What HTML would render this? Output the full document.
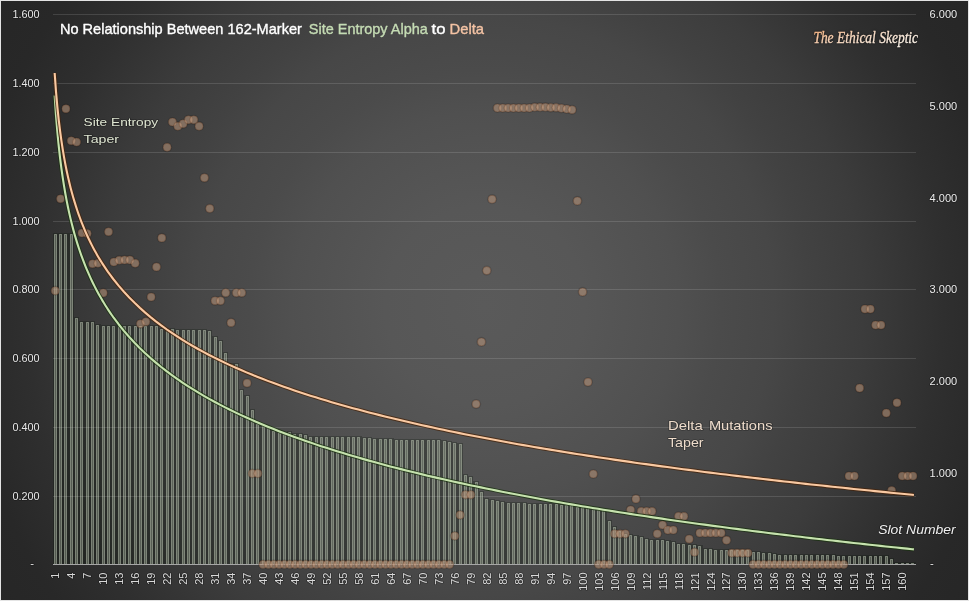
<!DOCTYPE html>
<html><head><meta charset="utf-8"><title>No Relationship Between 162-Marker Site Entropy Alpha to Delta</title>
<style>
html,body{margin:0;padding:0;background:#262626;}
#c{position:relative;width:969px;height:601px;overflow:hidden;box-sizing:border-box;border:1px solid #e4e4e4;background:radial-gradient(circle 580px at 484px 305px, #5a5a5a 0px, #575757 100px, #505050 194px, #4b4b4b 236px, #474747 289px, #424242 324px, #3c3c3c 378px, #2f2f2f 458px, #282828 520px, #262626 580px);}
svg{position:absolute;left:-1px;top:-1px;}
text{font-family:"Liberation Sans",Arial,sans-serif;paint-order:stroke;stroke:rgba(0,0,0,0.28);stroke-width:1.6px;stroke-linejoin:round;}
</style></head><body>
<div id="c">
<svg width="969" height="601" viewBox="0 0 969 601">
<g fill="rgba(8,18,8,0.26)" shape-rendering="crispEdges">
<rect x="53" y="233" width="5" height="331"/>
<rect x="58" y="233" width="5" height="331"/>
<rect x="63" y="233" width="6" height="331"/>
<rect x="69" y="233" width="5" height="331"/>
<rect x="74" y="317" width="5" height="247"/>
<rect x="79" y="321" width="6" height="243"/>
<rect x="85" y="321" width="5" height="243"/>
<rect x="90" y="321" width="5" height="243"/>
<rect x="95" y="324" width="6" height="240"/>
<rect x="101" y="325" width="5" height="239"/>
<rect x="106" y="325" width="5" height="239"/>
<rect x="111" y="325" width="6" height="239"/>
<rect x="117" y="325" width="5" height="239"/>
<rect x="122" y="325" width="5" height="239"/>
<rect x="127" y="325" width="6" height="239"/>
<rect x="133" y="325" width="5" height="239"/>
<rect x="138" y="325" width="5" height="239"/>
<rect x="143" y="325" width="5" height="239"/>
<rect x="148" y="325" width="6" height="239"/>
<rect x="154" y="325" width="5" height="239"/>
<rect x="159" y="328" width="5" height="236"/>
<rect x="164" y="329" width="6" height="235"/>
<rect x="170" y="328" width="5" height="236"/>
<rect x="175" y="329" width="5" height="235"/>
<rect x="180" y="329" width="6" height="235"/>
<rect x="186" y="329" width="5" height="235"/>
<rect x="191" y="329" width="5" height="235"/>
<rect x="196" y="329" width="6" height="235"/>
<rect x="202" y="329" width="5" height="235"/>
<rect x="207" y="330" width="5" height="234"/>
<rect x="212" y="336" width="6" height="228"/>
<rect x="218" y="340" width="5" height="224"/>
<rect x="223" y="352" width="5" height="212"/>
<rect x="228" y="363" width="6" height="201"/>
<rect x="234" y="363" width="5" height="201"/>
<rect x="239" y="389" width="5" height="175"/>
<rect x="244" y="395" width="6" height="169"/>
<rect x="250" y="409" width="5" height="155"/>
<rect x="255" y="423" width="5" height="141"/>
<rect x="260" y="425" width="6" height="139"/>
<rect x="266" y="427" width="5" height="137"/>
<rect x="271" y="430" width="5" height="134"/>
<rect x="276" y="431" width="6" height="133"/>
<rect x="282" y="433" width="5" height="131"/>
<rect x="287" y="431" width="5" height="133"/>
<rect x="292" y="433" width="6" height="131"/>
<rect x="298" y="433" width="5" height="131"/>
<rect x="303" y="434" width="5" height="130"/>
<rect x="308" y="436" width="6" height="128"/>
<rect x="314" y="436" width="5" height="128"/>
<rect x="319" y="436" width="5" height="128"/>
<rect x="324" y="436" width="6" height="128"/>
<rect x="330" y="436" width="5" height="128"/>
<rect x="335" y="436" width="5" height="128"/>
<rect x="340" y="436" width="6" height="128"/>
<rect x="346" y="436" width="5" height="128"/>
<rect x="351" y="436" width="5" height="128"/>
<rect x="356" y="436" width="6" height="128"/>
<rect x="362" y="437" width="5" height="127"/>
<rect x="367" y="437" width="5" height="127"/>
<rect x="372" y="438" width="6" height="126"/>
<rect x="378" y="438" width="5" height="126"/>
<rect x="383" y="438" width="5" height="126"/>
<rect x="388" y="438" width="6" height="126"/>
<rect x="394" y="439" width="5" height="125"/>
<rect x="399" y="439" width="5" height="125"/>
<rect x="404" y="439" width="6" height="125"/>
<rect x="410" y="439" width="5" height="125"/>
<rect x="415" y="439" width="5" height="125"/>
<rect x="420" y="439" width="6" height="125"/>
<rect x="426" y="439" width="5" height="125"/>
<rect x="431" y="439" width="5" height="125"/>
<rect x="436" y="439" width="5" height="125"/>
<rect x="441" y="440" width="6" height="124"/>
<rect x="447" y="441" width="5" height="123"/>
<rect x="452" y="442" width="5" height="122"/>
<rect x="457" y="443" width="6" height="121"/>
<rect x="463" y="474" width="5" height="90"/>
<rect x="468" y="476" width="5" height="88"/>
<rect x="473" y="481" width="6" height="83"/>
<rect x="479" y="491" width="5" height="73"/>
<rect x="484" y="498" width="5" height="66"/>
<rect x="489" y="499" width="6" height="65"/>
<rect x="495" y="500" width="5" height="64"/>
<rect x="500" y="501" width="5" height="63"/>
<rect x="505" y="502" width="6" height="62"/>
<rect x="511" y="502" width="5" height="62"/>
<rect x="516" y="502" width="5" height="62"/>
<rect x="521" y="502" width="6" height="62"/>
<rect x="527" y="503" width="5" height="61"/>
<rect x="532" y="503" width="5" height="61"/>
<rect x="537" y="503" width="6" height="61"/>
<rect x="543" y="503" width="5" height="61"/>
<rect x="548" y="503" width="5" height="61"/>
<rect x="553" y="503" width="6" height="61"/>
<rect x="559" y="504" width="5" height="60"/>
<rect x="564" y="504" width="5" height="60"/>
<rect x="569" y="504" width="6" height="60"/>
<rect x="575" y="506" width="5" height="58"/>
<rect x="580" y="506" width="5" height="58"/>
<rect x="585" y="506" width="6" height="58"/>
<rect x="591" y="508" width="5" height="56"/>
<rect x="596" y="509" width="5" height="55"/>
<rect x="601" y="509" width="6" height="55"/>
<rect x="607" y="520" width="5" height="44"/>
<rect x="612" y="526" width="5" height="38"/>
<rect x="617" y="530" width="6" height="34"/>
<rect x="623" y="533" width="5" height="31"/>
<rect x="628" y="534" width="5" height="30"/>
<rect x="633" y="535" width="6" height="29"/>
<rect x="639" y="536" width="5" height="28"/>
<rect x="644" y="538" width="5" height="26"/>
<rect x="649" y="539" width="6" height="25"/>
<rect x="655" y="539" width="5" height="25"/>
<rect x="660" y="539" width="5" height="25"/>
<rect x="665" y="540" width="6" height="24"/>
<rect x="671" y="541" width="5" height="23"/>
<rect x="676" y="543" width="5" height="21"/>
<rect x="681" y="543" width="6" height="21"/>
<rect x="687" y="544" width="5" height="20"/>
<rect x="692" y="544" width="5" height="20"/>
<rect x="697" y="545" width="6" height="19"/>
<rect x="703" y="548" width="5" height="16"/>
<rect x="708" y="548" width="5" height="16"/>
<rect x="713" y="549" width="5" height="15"/>
<rect x="718" y="549" width="6" height="15"/>
<rect x="724" y="549" width="5" height="15"/>
<rect x="729" y="549" width="5" height="15"/>
<rect x="734" y="549" width="6" height="15"/>
<rect x="740" y="549" width="5" height="15"/>
<rect x="745" y="549" width="5" height="15"/>
<rect x="750" y="551" width="6" height="13"/>
<rect x="756" y="551" width="5" height="13"/>
<rect x="761" y="552" width="5" height="12"/>
<rect x="766" y="552" width="6" height="12"/>
<rect x="772" y="553" width="5" height="11"/>
<rect x="777" y="554" width="5" height="10"/>
<rect x="782" y="554" width="6" height="10"/>
<rect x="788" y="554" width="5" height="10"/>
<rect x="793" y="554" width="5" height="10"/>
<rect x="798" y="554" width="6" height="10"/>
<rect x="804" y="554" width="5" height="10"/>
<rect x="809" y="554" width="5" height="10"/>
<rect x="814" y="554" width="6" height="10"/>
<rect x="820" y="554" width="5" height="10"/>
<rect x="825" y="554" width="5" height="10"/>
<rect x="830" y="554" width="6" height="10"/>
<rect x="836" y="555" width="5" height="9"/>
<rect x="841" y="555" width="5" height="9"/>
<rect x="846" y="555" width="6" height="9"/>
<rect x="852" y="555" width="5" height="9"/>
<rect x="857" y="555" width="5" height="9"/>
<rect x="862" y="555" width="6" height="9"/>
<rect x="868" y="555" width="5" height="9"/>
<rect x="873" y="555" width="5" height="9"/>
<rect x="878" y="555" width="6" height="9"/>
<rect x="884" y="555" width="5" height="9"/>
<rect x="889" y="558" width="5" height="6"/>
<rect x="894" y="562" width="6" height="2"/>
<rect x="900" y="562" width="5" height="2"/>
<rect x="905" y="562" width="5" height="2"/>
<rect x="910" y="562" width="6" height="2"/>
</g>
<g fill="rgba(175,185,165,0.36)" stroke="rgba(182,192,172,0.52)" stroke-width="1">
<rect x="54.5" y="234.5" width="2" height="330"/>
<rect x="59.5" y="234.5" width="2" height="330"/>
<rect x="64.5" y="234.5" width="2" height="330"/>
<rect x="70.5" y="234.5" width="2" height="330"/>
<rect x="75.5" y="318.5" width="2" height="246"/>
<rect x="80.5" y="322.5" width="2" height="242"/>
<rect x="86.5" y="322.5" width="2" height="242"/>
<rect x="91.5" y="322.5" width="2" height="242"/>
<rect x="96.5" y="325.5" width="2" height="239"/>
<rect x="102.5" y="326.5" width="2" height="238"/>
<rect x="107.5" y="326.5" width="2" height="238"/>
<rect x="112.5" y="326.5" width="2" height="238"/>
<rect x="118.5" y="326.5" width="2" height="238"/>
<rect x="123.5" y="326.5" width="2" height="238"/>
<rect x="128.5" y="326.5" width="2" height="238"/>
<rect x="134.5" y="326.5" width="2" height="238"/>
<rect x="139.5" y="326.5" width="2" height="238"/>
<rect x="144.5" y="326.5" width="2" height="238"/>
<rect x="150.5" y="326.5" width="2" height="238"/>
<rect x="155.5" y="326.5" width="2" height="238"/>
<rect x="160.5" y="329.5" width="2" height="235"/>
<rect x="166.5" y="330.5" width="2" height="234"/>
<rect x="171.5" y="329.5" width="2" height="235"/>
<rect x="176.5" y="330.5" width="2" height="234"/>
<rect x="182.5" y="330.5" width="2" height="234"/>
<rect x="187.5" y="330.5" width="2" height="234"/>
<rect x="192.5" y="330.5" width="2" height="234"/>
<rect x="198.5" y="330.5" width="2" height="234"/>
<rect x="203.5" y="330.5" width="2" height="234"/>
<rect x="208.5" y="331.5" width="2" height="233"/>
<rect x="214.5" y="337.5" width="2" height="227"/>
<rect x="219.5" y="341.5" width="2" height="223"/>
<rect x="224.5" y="353.5" width="2" height="211"/>
<rect x="230.5" y="364.5" width="2" height="200"/>
<rect x="235.5" y="364.5" width="2" height="200"/>
<rect x="240.5" y="390.5" width="2" height="174"/>
<rect x="246.5" y="396.5" width="2" height="168"/>
<rect x="251.5" y="410.5" width="2" height="154"/>
<rect x="256.5" y="424.5" width="2" height="140"/>
<rect x="262.5" y="426.5" width="2" height="138"/>
<rect x="267.5" y="428.5" width="2" height="136"/>
<rect x="272.5" y="431.5" width="2" height="133"/>
<rect x="278.5" y="432.5" width="2" height="132"/>
<rect x="283.5" y="434.5" width="2" height="130"/>
<rect x="288.5" y="432.5" width="2" height="132"/>
<rect x="293.5" y="434.5" width="2" height="130"/>
<rect x="299.5" y="434.5" width="2" height="130"/>
<rect x="304.5" y="435.5" width="2" height="129"/>
<rect x="309.5" y="437.5" width="2" height="127"/>
<rect x="315.5" y="437.5" width="2" height="127"/>
<rect x="320.5" y="437.5" width="2" height="127"/>
<rect x="325.5" y="437.5" width="2" height="127"/>
<rect x="331.5" y="437.5" width="2" height="127"/>
<rect x="336.5" y="437.5" width="2" height="127"/>
<rect x="341.5" y="437.5" width="2" height="127"/>
<rect x="347.5" y="437.5" width="2" height="127"/>
<rect x="352.5" y="437.5" width="2" height="127"/>
<rect x="357.5" y="437.5" width="2" height="127"/>
<rect x="363.5" y="438.5" width="2" height="126"/>
<rect x="368.5" y="438.5" width="2" height="126"/>
<rect x="373.5" y="439.5" width="2" height="125"/>
<rect x="379.5" y="439.5" width="2" height="125"/>
<rect x="384.5" y="439.5" width="2" height="125"/>
<rect x="389.5" y="439.5" width="2" height="125"/>
<rect x="395.5" y="440.5" width="2" height="124"/>
<rect x="400.5" y="440.5" width="2" height="124"/>
<rect x="405.5" y="440.5" width="2" height="124"/>
<rect x="411.5" y="440.5" width="2" height="124"/>
<rect x="416.5" y="440.5" width="2" height="124"/>
<rect x="421.5" y="440.5" width="2" height="124"/>
<rect x="427.5" y="440.5" width="2" height="124"/>
<rect x="432.5" y="440.5" width="2" height="124"/>
<rect x="437.5" y="440.5" width="2" height="124"/>
<rect x="443.5" y="441.5" width="2" height="123"/>
<rect x="448.5" y="442.5" width="2" height="122"/>
<rect x="453.5" y="443.5" width="2" height="121"/>
<rect x="459.5" y="444.5" width="2" height="120"/>
<rect x="464.5" y="475.5" width="2" height="89"/>
<rect x="469.5" y="477.5" width="2" height="87"/>
<rect x="475.5" y="482.5" width="2" height="82"/>
<rect x="480.5" y="492.5" width="2" height="72"/>
<rect x="485.5" y="499.5" width="2" height="65"/>
<rect x="491.5" y="500.5" width="2" height="64"/>
<rect x="496.5" y="501.5" width="2" height="63"/>
<rect x="501.5" y="502.5" width="2" height="62"/>
<rect x="507.5" y="503.5" width="2" height="61"/>
<rect x="512.5" y="503.5" width="2" height="61"/>
<rect x="517.5" y="503.5" width="2" height="61"/>
<rect x="523.5" y="503.5" width="2" height="61"/>
<rect x="528.5" y="504.5" width="2" height="60"/>
<rect x="533.5" y="504.5" width="2" height="60"/>
<rect x="539.5" y="504.5" width="2" height="60"/>
<rect x="544.5" y="504.5" width="2" height="60"/>
<rect x="549.5" y="504.5" width="2" height="60"/>
<rect x="555.5" y="504.5" width="2" height="60"/>
<rect x="560.5" y="505.5" width="2" height="59"/>
<rect x="565.5" y="505.5" width="2" height="59"/>
<rect x="570.5" y="505.5" width="2" height="59"/>
<rect x="576.5" y="507.5" width="2" height="57"/>
<rect x="581.5" y="507.5" width="2" height="57"/>
<rect x="586.5" y="507.5" width="2" height="57"/>
<rect x="592.5" y="509.5" width="2" height="55"/>
<rect x="597.5" y="510.5" width="2" height="54"/>
<rect x="602.5" y="510.5" width="2" height="54"/>
<rect x="608.5" y="521.5" width="2" height="43"/>
<rect x="613.5" y="527.5" width="2" height="37"/>
<rect x="618.5" y="531.5" width="2" height="33"/>
<rect x="624.5" y="534.5" width="2" height="30"/>
<rect x="629.5" y="535.5" width="2" height="29"/>
<rect x="634.5" y="536.5" width="2" height="28"/>
<rect x="640.5" y="537.5" width="2" height="27"/>
<rect x="645.5" y="539.5" width="2" height="25"/>
<rect x="650.5" y="540.5" width="2" height="24"/>
<rect x="656.5" y="540.5" width="2" height="24"/>
<rect x="661.5" y="540.5" width="2" height="24"/>
<rect x="666.5" y="541.5" width="2" height="23"/>
<rect x="672.5" y="542.5" width="2" height="22"/>
<rect x="677.5" y="544.5" width="2" height="20"/>
<rect x="682.5" y="544.5" width="2" height="20"/>
<rect x="688.5" y="545.5" width="2" height="19"/>
<rect x="693.5" y="545.5" width="2" height="19"/>
<rect x="698.5" y="546.5" width="2" height="18"/>
<rect x="704.5" y="549.5" width="2" height="15"/>
<rect x="709.5" y="549.5" width="2" height="15"/>
<rect x="714.5" y="550.5" width="2" height="14"/>
<rect x="720.5" y="550.5" width="2" height="14"/>
<rect x="725.5" y="550.5" width="2" height="14"/>
<rect x="730.5" y="550.5" width="2" height="14"/>
<rect x="736.5" y="550.5" width="2" height="14"/>
<rect x="741.5" y="550.5" width="2" height="14"/>
<rect x="746.5" y="550.5" width="2" height="14"/>
<rect x="752.5" y="552.5" width="2" height="12"/>
<rect x="757.5" y="552.5" width="2" height="12"/>
<rect x="762.5" y="553.5" width="2" height="11"/>
<rect x="768.5" y="553.5" width="2" height="11"/>
<rect x="773.5" y="554.5" width="2" height="10"/>
<rect x="778.5" y="555.5" width="2" height="9"/>
<rect x="784.5" y="555.5" width="2" height="9"/>
<rect x="789.5" y="555.5" width="2" height="9"/>
<rect x="794.5" y="555.5" width="2" height="9"/>
<rect x="800.5" y="555.5" width="2" height="9"/>
<rect x="805.5" y="555.5" width="2" height="9"/>
<rect x="810.5" y="555.5" width="2" height="9"/>
<rect x="816.5" y="555.5" width="2" height="9"/>
<rect x="821.5" y="555.5" width="2" height="9"/>
<rect x="826.5" y="555.5" width="2" height="9"/>
<rect x="832.5" y="555.5" width="2" height="9"/>
<rect x="837.5" y="556.5" width="2" height="8"/>
<rect x="842.5" y="556.5" width="2" height="8"/>
<rect x="848.5" y="556.5" width="2" height="8"/>
<rect x="853.5" y="556.5" width="2" height="8"/>
<rect x="858.5" y="556.5" width="2" height="8"/>
<rect x="863.5" y="556.5" width="2" height="8"/>
<rect x="869.5" y="556.5" width="2" height="8"/>
<rect x="874.5" y="556.5" width="2" height="8"/>
<rect x="879.5" y="556.5" width="2" height="8"/>
<rect x="885.5" y="556.5" width="2" height="8"/>
<rect x="890.5" y="559.5" width="2" height="5"/>
<rect x="895.5" y="563.5" width="2" height="1"/>
<rect x="901.5" y="563.5" width="2" height="1"/>
<rect x="906.5" y="563.5" width="2" height="1"/>
<rect x="911.5" y="563.5" width="2" height="1"/>
</g>
<g stroke="rgba(255,255,255,0.13)" stroke-width="1" shape-rendering="crispEdges">
<line x1="52.6" y1="496.5" x2="915.6" y2="496.5"/>
<line x1="52.6" y1="427.5" x2="915.6" y2="427.5"/>
<line x1="52.6" y1="358.5" x2="915.6" y2="358.5"/>
<line x1="52.6" y1="289.5" x2="915.6" y2="289.5"/>
<line x1="52.6" y1="221.5" x2="915.6" y2="221.5"/>
<line x1="52.6" y1="152.5" x2="915.6" y2="152.5"/>
<line x1="52.6" y1="83.5" x2="915.6" y2="83.5"/>
<line x1="52.6" y1="14.5" x2="915.6" y2="14.5"/>
</g>
<line x1="52.6" y1="564.5" x2="915.6" y2="564.5" stroke="#a6a6a6" stroke-width="1" shape-rendering="crispEdges"/>
<g fill="rgba(0,0,0,0.12)">
<circle cx="55.26" cy="290.70" r="5.1"/>
<circle cx="60.59" cy="198.80" r="5.1"/>
<circle cx="65.92" cy="108.80" r="5.1"/>
<circle cx="71.25" cy="140.80" r="5.1"/>
<circle cx="76.57" cy="142.10" r="5.1"/>
<circle cx="81.90" cy="233.00" r="5.1"/>
<circle cx="87.23" cy="233.60" r="5.1"/>
<circle cx="92.55" cy="263.80" r="5.1"/>
<circle cx="97.88" cy="263.30" r="5.1"/>
<circle cx="103.21" cy="292.90" r="5.1"/>
<circle cx="108.54" cy="231.80" r="5.1"/>
<circle cx="113.86" cy="262.00" r="5.1"/>
<circle cx="119.19" cy="260.20" r="5.1"/>
<circle cx="124.52" cy="259.90" r="5.1"/>
<circle cx="129.84" cy="259.90" r="5.1"/>
<circle cx="135.17" cy="263.30" r="5.1"/>
<circle cx="140.50" cy="323.80" r="5.1"/>
<circle cx="145.83" cy="321.70" r="5.1"/>
<circle cx="151.15" cy="297.00" r="5.1"/>
<circle cx="156.48" cy="266.90" r="5.1"/>
<circle cx="161.81" cy="237.90" r="5.1"/>
<circle cx="167.13" cy="147.30" r="5.1"/>
<circle cx="172.46" cy="122.00" r="5.1"/>
<circle cx="177.79" cy="126.20" r="5.1"/>
<circle cx="183.12" cy="123.80" r="5.1"/>
<circle cx="188.44" cy="119.80" r="5.1"/>
<circle cx="193.77" cy="119.80" r="5.1"/>
<circle cx="199.10" cy="126.20" r="5.1"/>
<circle cx="204.42" cy="177.80" r="5.1"/>
<circle cx="209.75" cy="208.50" r="5.1"/>
<circle cx="215.08" cy="300.80" r="5.1"/>
<circle cx="220.41" cy="300.80" r="5.1"/>
<circle cx="225.73" cy="292.80" r="5.1"/>
<circle cx="231.06" cy="322.70" r="5.1"/>
<circle cx="236.39" cy="292.80" r="5.1"/>
<circle cx="241.71" cy="292.80" r="5.1"/>
<circle cx="247.04" cy="383.10" r="5.1"/>
<circle cx="252.37" cy="473.50" r="5.1"/>
<circle cx="257.70" cy="473.50" r="5.1"/>
<circle cx="263.02" cy="564.40" r="5.1"/>
<circle cx="268.35" cy="564.40" r="5.1"/>
<circle cx="273.68" cy="564.40" r="5.1"/>
<circle cx="279.00" cy="564.40" r="5.1"/>
<circle cx="284.33" cy="564.40" r="5.1"/>
<circle cx="289.66" cy="564.40" r="5.1"/>
<circle cx="294.99" cy="564.40" r="5.1"/>
<circle cx="300.31" cy="564.40" r="5.1"/>
<circle cx="305.64" cy="564.40" r="5.1"/>
<circle cx="310.97" cy="564.40" r="5.1"/>
<circle cx="316.29" cy="564.40" r="5.1"/>
<circle cx="321.62" cy="564.40" r="5.1"/>
<circle cx="326.95" cy="564.40" r="5.1"/>
<circle cx="332.28" cy="564.40" r="5.1"/>
<circle cx="337.60" cy="564.40" r="5.1"/>
<circle cx="342.93" cy="564.40" r="5.1"/>
<circle cx="348.26" cy="564.40" r="5.1"/>
<circle cx="353.58" cy="564.40" r="5.1"/>
<circle cx="358.91" cy="564.40" r="5.1"/>
<circle cx="364.24" cy="564.40" r="5.1"/>
<circle cx="369.57" cy="564.40" r="5.1"/>
<circle cx="374.89" cy="564.40" r="5.1"/>
<circle cx="380.22" cy="564.40" r="5.1"/>
<circle cx="385.55" cy="564.40" r="5.1"/>
<circle cx="390.87" cy="564.40" r="5.1"/>
<circle cx="396.20" cy="564.40" r="5.1"/>
<circle cx="401.53" cy="564.40" r="5.1"/>
<circle cx="406.86" cy="564.40" r="5.1"/>
<circle cx="412.18" cy="564.40" r="5.1"/>
<circle cx="417.51" cy="564.40" r="5.1"/>
<circle cx="422.84" cy="564.40" r="5.1"/>
<circle cx="428.16" cy="564.40" r="5.1"/>
<circle cx="433.49" cy="564.40" r="5.1"/>
<circle cx="438.82" cy="564.40" r="5.1"/>
<circle cx="444.15" cy="564.40" r="5.1"/>
<circle cx="449.47" cy="564.40" r="5.1"/>
<circle cx="454.80" cy="535.90" r="5.1"/>
<circle cx="460.13" cy="514.90" r="5.1"/>
<circle cx="465.45" cy="494.70" r="5.1"/>
<circle cx="470.78" cy="494.70" r="5.1"/>
<circle cx="476.11" cy="404.10" r="5.1"/>
<circle cx="481.44" cy="341.90" r="5.1"/>
<circle cx="486.76" cy="270.60" r="5.1"/>
<circle cx="492.09" cy="199.20" r="5.1"/>
<circle cx="497.42" cy="108.00" r="5.1"/>
<circle cx="502.75" cy="108.00" r="5.1"/>
<circle cx="508.07" cy="108.00" r="5.1"/>
<circle cx="513.40" cy="108.00" r="5.1"/>
<circle cx="518.73" cy="108.00" r="5.1"/>
<circle cx="524.05" cy="108.00" r="5.1"/>
<circle cx="529.38" cy="108.00" r="5.1"/>
<circle cx="534.71" cy="107.20" r="5.1"/>
<circle cx="540.04" cy="107.20" r="5.1"/>
<circle cx="545.36" cy="107.20" r="5.1"/>
<circle cx="550.69" cy="107.60" r="5.1"/>
<circle cx="556.02" cy="107.60" r="5.1"/>
<circle cx="561.34" cy="108.30" r="5.1"/>
<circle cx="566.67" cy="109.00" r="5.1"/>
<circle cx="572.00" cy="109.80" r="5.1"/>
<circle cx="577.33" cy="200.90" r="5.1"/>
<circle cx="582.65" cy="291.90" r="5.1"/>
<circle cx="587.98" cy="382.10" r="5.1"/>
<circle cx="593.31" cy="474.00" r="5.1"/>
<circle cx="598.63" cy="564.40" r="5.1"/>
<circle cx="603.96" cy="564.40" r="5.1"/>
<circle cx="609.29" cy="564.40" r="5.1"/>
<circle cx="614.62" cy="533.80" r="5.1"/>
<circle cx="619.94" cy="533.80" r="5.1"/>
<circle cx="625.27" cy="533.80" r="5.1"/>
<circle cx="630.60" cy="509.90" r="5.1"/>
<circle cx="635.92" cy="498.90" r="5.1"/>
<circle cx="641.25" cy="511.30" r="5.1"/>
<circle cx="646.58" cy="511.30" r="5.1"/>
<circle cx="651.91" cy="511.30" r="5.1"/>
<circle cx="657.23" cy="533.80" r="5.1"/>
<circle cx="662.56" cy="524.90" r="5.1"/>
<circle cx="667.89" cy="530.00" r="5.1"/>
<circle cx="673.21" cy="530.00" r="5.1"/>
<circle cx="678.54" cy="516.30" r="5.1"/>
<circle cx="683.87" cy="516.30" r="5.1"/>
<circle cx="689.20" cy="539.00" r="5.1"/>
<circle cx="694.52" cy="552.20" r="5.1"/>
<circle cx="699.85" cy="532.90" r="5.1"/>
<circle cx="705.18" cy="532.90" r="5.1"/>
<circle cx="710.50" cy="532.90" r="5.1"/>
<circle cx="715.83" cy="532.90" r="5.1"/>
<circle cx="721.16" cy="532.90" r="5.1"/>
<circle cx="726.49" cy="540.20" r="5.1"/>
<circle cx="731.81" cy="553.00" r="5.1"/>
<circle cx="737.14" cy="553.00" r="5.1"/>
<circle cx="742.47" cy="553.00" r="5.1"/>
<circle cx="747.79" cy="553.00" r="5.1"/>
<circle cx="753.12" cy="564.40" r="5.1"/>
<circle cx="758.45" cy="564.40" r="5.1"/>
<circle cx="763.78" cy="564.40" r="5.1"/>
<circle cx="769.10" cy="564.40" r="5.1"/>
<circle cx="774.43" cy="564.40" r="5.1"/>
<circle cx="779.76" cy="564.40" r="5.1"/>
<circle cx="785.08" cy="564.40" r="5.1"/>
<circle cx="790.41" cy="564.40" r="5.1"/>
<circle cx="795.74" cy="564.40" r="5.1"/>
<circle cx="801.07" cy="564.40" r="5.1"/>
<circle cx="806.39" cy="564.40" r="5.1"/>
<circle cx="811.72" cy="564.40" r="5.1"/>
<circle cx="817.05" cy="564.40" r="5.1"/>
<circle cx="822.37" cy="564.40" r="5.1"/>
<circle cx="827.70" cy="564.40" r="5.1"/>
<circle cx="833.03" cy="564.40" r="5.1"/>
<circle cx="838.36" cy="564.40" r="5.1"/>
<circle cx="843.68" cy="564.40" r="5.1"/>
<circle cx="849.01" cy="476.00" r="5.1"/>
<circle cx="854.34" cy="476.00" r="5.1"/>
<circle cx="859.66" cy="388.10" r="5.1"/>
<circle cx="864.99" cy="309.10" r="5.1"/>
<circle cx="870.32" cy="309.10" r="5.1"/>
<circle cx="875.65" cy="325.10" r="5.1"/>
<circle cx="880.97" cy="325.10" r="5.1"/>
<circle cx="886.30" cy="413.10" r="5.1"/>
<circle cx="891.63" cy="490.50" r="5.1"/>
<circle cx="896.95" cy="402.70" r="5.1"/>
<circle cx="902.28" cy="476.00" r="5.1"/>
<circle cx="907.61" cy="476.00" r="5.1"/>
<circle cx="912.94" cy="476.00" r="5.1"/>
</g>
<g fill="rgba(208,168,138,0.5)" stroke="rgba(100,60,38,0.42)" stroke-width="0.9">
<circle cx="55.26" cy="290.70" r="4.0"/>
<circle cx="60.59" cy="198.80" r="4.0"/>
<circle cx="65.92" cy="108.80" r="4.0"/>
<circle cx="71.25" cy="140.80" r="4.0"/>
<circle cx="76.57" cy="142.10" r="4.0"/>
<circle cx="81.90" cy="233.00" r="4.0"/>
<circle cx="87.23" cy="233.60" r="4.0"/>
<circle cx="92.55" cy="263.80" r="4.0"/>
<circle cx="97.88" cy="263.30" r="4.0"/>
<circle cx="103.21" cy="292.90" r="4.0"/>
<circle cx="108.54" cy="231.80" r="4.0"/>
<circle cx="113.86" cy="262.00" r="4.0"/>
<circle cx="119.19" cy="260.20" r="4.0"/>
<circle cx="124.52" cy="259.90" r="4.0"/>
<circle cx="129.84" cy="259.90" r="4.0"/>
<circle cx="135.17" cy="263.30" r="4.0"/>
<circle cx="140.50" cy="323.80" r="4.0"/>
<circle cx="145.83" cy="321.70" r="4.0"/>
<circle cx="151.15" cy="297.00" r="4.0"/>
<circle cx="156.48" cy="266.90" r="4.0"/>
<circle cx="161.81" cy="237.90" r="4.0"/>
<circle cx="167.13" cy="147.30" r="4.0"/>
<circle cx="172.46" cy="122.00" r="4.0"/>
<circle cx="177.79" cy="126.20" r="4.0"/>
<circle cx="183.12" cy="123.80" r="4.0"/>
<circle cx="188.44" cy="119.80" r="4.0"/>
<circle cx="193.77" cy="119.80" r="4.0"/>
<circle cx="199.10" cy="126.20" r="4.0"/>
<circle cx="204.42" cy="177.80" r="4.0"/>
<circle cx="209.75" cy="208.50" r="4.0"/>
<circle cx="215.08" cy="300.80" r="4.0"/>
<circle cx="220.41" cy="300.80" r="4.0"/>
<circle cx="225.73" cy="292.80" r="4.0"/>
<circle cx="231.06" cy="322.70" r="4.0"/>
<circle cx="236.39" cy="292.80" r="4.0"/>
<circle cx="241.71" cy="292.80" r="4.0"/>
<circle cx="247.04" cy="383.10" r="4.0"/>
<circle cx="252.37" cy="473.50" r="4.0"/>
<circle cx="257.70" cy="473.50" r="4.0"/>
<circle cx="263.02" cy="564.40" r="4.0"/>
<circle cx="268.35" cy="564.40" r="4.0"/>
<circle cx="273.68" cy="564.40" r="4.0"/>
<circle cx="279.00" cy="564.40" r="4.0"/>
<circle cx="284.33" cy="564.40" r="4.0"/>
<circle cx="289.66" cy="564.40" r="4.0"/>
<circle cx="294.99" cy="564.40" r="4.0"/>
<circle cx="300.31" cy="564.40" r="4.0"/>
<circle cx="305.64" cy="564.40" r="4.0"/>
<circle cx="310.97" cy="564.40" r="4.0"/>
<circle cx="316.29" cy="564.40" r="4.0"/>
<circle cx="321.62" cy="564.40" r="4.0"/>
<circle cx="326.95" cy="564.40" r="4.0"/>
<circle cx="332.28" cy="564.40" r="4.0"/>
<circle cx="337.60" cy="564.40" r="4.0"/>
<circle cx="342.93" cy="564.40" r="4.0"/>
<circle cx="348.26" cy="564.40" r="4.0"/>
<circle cx="353.58" cy="564.40" r="4.0"/>
<circle cx="358.91" cy="564.40" r="4.0"/>
<circle cx="364.24" cy="564.40" r="4.0"/>
<circle cx="369.57" cy="564.40" r="4.0"/>
<circle cx="374.89" cy="564.40" r="4.0"/>
<circle cx="380.22" cy="564.40" r="4.0"/>
<circle cx="385.55" cy="564.40" r="4.0"/>
<circle cx="390.87" cy="564.40" r="4.0"/>
<circle cx="396.20" cy="564.40" r="4.0"/>
<circle cx="401.53" cy="564.40" r="4.0"/>
<circle cx="406.86" cy="564.40" r="4.0"/>
<circle cx="412.18" cy="564.40" r="4.0"/>
<circle cx="417.51" cy="564.40" r="4.0"/>
<circle cx="422.84" cy="564.40" r="4.0"/>
<circle cx="428.16" cy="564.40" r="4.0"/>
<circle cx="433.49" cy="564.40" r="4.0"/>
<circle cx="438.82" cy="564.40" r="4.0"/>
<circle cx="444.15" cy="564.40" r="4.0"/>
<circle cx="449.47" cy="564.40" r="4.0"/>
<circle cx="454.80" cy="535.90" r="4.0"/>
<circle cx="460.13" cy="514.90" r="4.0"/>
<circle cx="465.45" cy="494.70" r="4.0"/>
<circle cx="470.78" cy="494.70" r="4.0"/>
<circle cx="476.11" cy="404.10" r="4.0"/>
<circle cx="481.44" cy="341.90" r="4.0"/>
<circle cx="486.76" cy="270.60" r="4.0"/>
<circle cx="492.09" cy="199.20" r="4.0"/>
<circle cx="497.42" cy="108.00" r="4.0"/>
<circle cx="502.75" cy="108.00" r="4.0"/>
<circle cx="508.07" cy="108.00" r="4.0"/>
<circle cx="513.40" cy="108.00" r="4.0"/>
<circle cx="518.73" cy="108.00" r="4.0"/>
<circle cx="524.05" cy="108.00" r="4.0"/>
<circle cx="529.38" cy="108.00" r="4.0"/>
<circle cx="534.71" cy="107.20" r="4.0"/>
<circle cx="540.04" cy="107.20" r="4.0"/>
<circle cx="545.36" cy="107.20" r="4.0"/>
<circle cx="550.69" cy="107.60" r="4.0"/>
<circle cx="556.02" cy="107.60" r="4.0"/>
<circle cx="561.34" cy="108.30" r="4.0"/>
<circle cx="566.67" cy="109.00" r="4.0"/>
<circle cx="572.00" cy="109.80" r="4.0"/>
<circle cx="577.33" cy="200.90" r="4.0"/>
<circle cx="582.65" cy="291.90" r="4.0"/>
<circle cx="587.98" cy="382.10" r="4.0"/>
<circle cx="593.31" cy="474.00" r="4.0"/>
<circle cx="598.63" cy="564.40" r="4.0"/>
<circle cx="603.96" cy="564.40" r="4.0"/>
<circle cx="609.29" cy="564.40" r="4.0"/>
<circle cx="614.62" cy="533.80" r="4.0"/>
<circle cx="619.94" cy="533.80" r="4.0"/>
<circle cx="625.27" cy="533.80" r="4.0"/>
<circle cx="630.60" cy="509.90" r="4.0"/>
<circle cx="635.92" cy="498.90" r="4.0"/>
<circle cx="641.25" cy="511.30" r="4.0"/>
<circle cx="646.58" cy="511.30" r="4.0"/>
<circle cx="651.91" cy="511.30" r="4.0"/>
<circle cx="657.23" cy="533.80" r="4.0"/>
<circle cx="662.56" cy="524.90" r="4.0"/>
<circle cx="667.89" cy="530.00" r="4.0"/>
<circle cx="673.21" cy="530.00" r="4.0"/>
<circle cx="678.54" cy="516.30" r="4.0"/>
<circle cx="683.87" cy="516.30" r="4.0"/>
<circle cx="689.20" cy="539.00" r="4.0"/>
<circle cx="694.52" cy="552.20" r="4.0"/>
<circle cx="699.85" cy="532.90" r="4.0"/>
<circle cx="705.18" cy="532.90" r="4.0"/>
<circle cx="710.50" cy="532.90" r="4.0"/>
<circle cx="715.83" cy="532.90" r="4.0"/>
<circle cx="721.16" cy="532.90" r="4.0"/>
<circle cx="726.49" cy="540.20" r="4.0"/>
<circle cx="731.81" cy="553.00" r="4.0"/>
<circle cx="737.14" cy="553.00" r="4.0"/>
<circle cx="742.47" cy="553.00" r="4.0"/>
<circle cx="747.79" cy="553.00" r="4.0"/>
<circle cx="753.12" cy="564.40" r="4.0"/>
<circle cx="758.45" cy="564.40" r="4.0"/>
<circle cx="763.78" cy="564.40" r="4.0"/>
<circle cx="769.10" cy="564.40" r="4.0"/>
<circle cx="774.43" cy="564.40" r="4.0"/>
<circle cx="779.76" cy="564.40" r="4.0"/>
<circle cx="785.08" cy="564.40" r="4.0"/>
<circle cx="790.41" cy="564.40" r="4.0"/>
<circle cx="795.74" cy="564.40" r="4.0"/>
<circle cx="801.07" cy="564.40" r="4.0"/>
<circle cx="806.39" cy="564.40" r="4.0"/>
<circle cx="811.72" cy="564.40" r="4.0"/>
<circle cx="817.05" cy="564.40" r="4.0"/>
<circle cx="822.37" cy="564.40" r="4.0"/>
<circle cx="827.70" cy="564.40" r="4.0"/>
<circle cx="833.03" cy="564.40" r="4.0"/>
<circle cx="838.36" cy="564.40" r="4.0"/>
<circle cx="843.68" cy="564.40" r="4.0"/>
<circle cx="849.01" cy="476.00" r="4.0"/>
<circle cx="854.34" cy="476.00" r="4.0"/>
<circle cx="859.66" cy="388.10" r="4.0"/>
<circle cx="864.99" cy="309.10" r="4.0"/>
<circle cx="870.32" cy="309.10" r="4.0"/>
<circle cx="875.65" cy="325.10" r="4.0"/>
<circle cx="880.97" cy="325.10" r="4.0"/>
<circle cx="886.30" cy="413.10" r="4.0"/>
<circle cx="891.63" cy="490.50" r="4.0"/>
<circle cx="896.95" cy="402.70" r="4.0"/>
<circle cx="902.28" cy="476.00" r="4.0"/>
<circle cx="907.61" cy="476.00" r="4.0"/>
<circle cx="912.94" cy="476.00" r="4.0"/>
</g>
<polyline fill="none" stroke="rgba(25,50,15,0.75)" stroke-width="4" stroke-linejoin="round" points="54.66,95.50 56.00,115.40 57.33,131.66 58.66,145.41 59.99,157.31 61.32,167.82 62.65,177.21 63.99,185.71 65.32,193.47 66.65,200.61 67.98,207.22 69.31,213.37 70.64,219.13 71.98,224.54 73.31,229.63 74.64,234.46 75.97,239.03 77.30,243.38 78.63,247.53 79.97,251.49 81.30,255.29 82.63,258.93 83.96,262.43 85.29,265.79 86.63,269.04 87.96,272.17 89.29,275.19 90.62,278.11 91.95,280.94 93.28,283.69 94.62,286.35 95.95,288.94 97.28,291.45 98.61,293.89 99.94,296.27 101.27,298.59 102.61,300.84 103.94,303.05 105.27,305.20 106.60,307.29 107.93,309.34 109.27,311.35 110.60,313.31 111.93,315.23 113.26,317.10 118.59,324.24 123.91,330.85 129.24,337.00 134.57,342.76 139.90,348.17 145.22,353.26 150.55,358.09 155.88,362.66 161.20,367.01 166.53,371.16 171.86,375.12 177.18,378.92 182.51,382.56 187.84,386.06 193.17,389.42 198.49,392.67 203.82,395.80 209.15,398.82 214.47,401.74 219.80,404.57 225.13,407.32 230.45,409.98 235.78,412.57 241.11,415.08 246.44,417.52 251.76,419.90 257.09,422.22 262.42,424.47 267.74,426.68 273.07,428.83 278.40,430.92 283.72,432.97 289.05,434.98 294.38,436.94 299.71,438.86 305.03,440.73 310.36,442.57 315.69,444.37 321.01,446.14 326.34,447.87 331.67,449.57 336.99,451.24 342.32,452.87 347.65,454.48 352.98,456.06 358.30,457.61 363.63,459.13 368.96,460.63 374.28,462.11 379.61,463.56 384.94,464.98 390.26,466.39 395.59,467.77 400.92,469.13 406.25,470.47 411.57,471.80 416.90,473.10 422.23,474.38 427.55,475.65 432.88,476.89 438.21,478.12 443.53,479.34 448.86,480.53 454.19,481.71 459.52,482.88 464.84,484.03 470.17,485.17 475.50,486.29 480.82,487.40 486.15,488.49 491.48,489.57 496.80,490.64 502.13,491.70 507.46,492.74 512.79,493.77 518.11,494.79 523.44,495.80 528.77,496.79 534.09,497.78 539.42,498.75 544.75,499.72 550.07,500.67 555.40,501.61 560.73,502.55 566.06,503.47 571.38,504.39 576.71,505.29 582.04,506.19 587.36,507.08 592.69,507.96 598.02,508.83 603.34,509.69 608.67,510.54 614.00,511.39 619.33,512.22 624.65,513.05 629.98,513.87 635.31,514.69 640.63,515.50 645.96,516.30 651.29,517.09 656.61,517.87 661.94,518.65 667.27,519.43 672.60,520.19 677.92,520.95 683.25,521.70 688.58,522.45 693.90,523.19 699.23,523.92 704.56,524.65 709.88,525.37 715.21,526.09 720.54,526.80 725.87,527.50 731.19,528.20 736.52,528.90 741.85,529.59 747.17,530.27 752.50,530.95 757.83,531.62 763.15,532.29 768.48,532.95 773.81,533.61 779.14,534.26 784.46,534.91 789.79,535.56 795.12,536.20 800.44,536.83 805.77,537.46 811.10,538.09 816.42,538.71 821.75,539.33 827.08,539.94 832.41,540.55 837.73,541.15 843.06,541.75 848.39,542.35 853.71,542.94 859.04,543.53 864.37,544.11 869.69,544.70 875.02,545.27 880.35,545.85 885.68,546.42 891.00,546.98 896.33,547.54 901.66,548.10 906.98,548.66 912.31,549.21 913.91,549.38"/>
<polyline fill="none" stroke="#c6e2ae" stroke-width="2.1" stroke-linejoin="round" points="54.66,95.50 56.00,115.40 57.33,131.66 58.66,145.41 59.99,157.31 61.32,167.82 62.65,177.21 63.99,185.71 65.32,193.47 66.65,200.61 67.98,207.22 69.31,213.37 70.64,219.13 71.98,224.54 73.31,229.63 74.64,234.46 75.97,239.03 77.30,243.38 78.63,247.53 79.97,251.49 81.30,255.29 82.63,258.93 83.96,262.43 85.29,265.79 86.63,269.04 87.96,272.17 89.29,275.19 90.62,278.11 91.95,280.94 93.28,283.69 94.62,286.35 95.95,288.94 97.28,291.45 98.61,293.89 99.94,296.27 101.27,298.59 102.61,300.84 103.94,303.05 105.27,305.20 106.60,307.29 107.93,309.34 109.27,311.35 110.60,313.31 111.93,315.23 113.26,317.10 118.59,324.24 123.91,330.85 129.24,337.00 134.57,342.76 139.90,348.17 145.22,353.26 150.55,358.09 155.88,362.66 161.20,367.01 166.53,371.16 171.86,375.12 177.18,378.92 182.51,382.56 187.84,386.06 193.17,389.42 198.49,392.67 203.82,395.80 209.15,398.82 214.47,401.74 219.80,404.57 225.13,407.32 230.45,409.98 235.78,412.57 241.11,415.08 246.44,417.52 251.76,419.90 257.09,422.22 262.42,424.47 267.74,426.68 273.07,428.83 278.40,430.92 283.72,432.97 289.05,434.98 294.38,436.94 299.71,438.86 305.03,440.73 310.36,442.57 315.69,444.37 321.01,446.14 326.34,447.87 331.67,449.57 336.99,451.24 342.32,452.87 347.65,454.48 352.98,456.06 358.30,457.61 363.63,459.13 368.96,460.63 374.28,462.11 379.61,463.56 384.94,464.98 390.26,466.39 395.59,467.77 400.92,469.13 406.25,470.47 411.57,471.80 416.90,473.10 422.23,474.38 427.55,475.65 432.88,476.89 438.21,478.12 443.53,479.34 448.86,480.53 454.19,481.71 459.52,482.88 464.84,484.03 470.17,485.17 475.50,486.29 480.82,487.40 486.15,488.49 491.48,489.57 496.80,490.64 502.13,491.70 507.46,492.74 512.79,493.77 518.11,494.79 523.44,495.80 528.77,496.79 534.09,497.78 539.42,498.75 544.75,499.72 550.07,500.67 555.40,501.61 560.73,502.55 566.06,503.47 571.38,504.39 576.71,505.29 582.04,506.19 587.36,507.08 592.69,507.96 598.02,508.83 603.34,509.69 608.67,510.54 614.00,511.39 619.33,512.22 624.65,513.05 629.98,513.87 635.31,514.69 640.63,515.50 645.96,516.30 651.29,517.09 656.61,517.87 661.94,518.65 667.27,519.43 672.60,520.19 677.92,520.95 683.25,521.70 688.58,522.45 693.90,523.19 699.23,523.92 704.56,524.65 709.88,525.37 715.21,526.09 720.54,526.80 725.87,527.50 731.19,528.20 736.52,528.90 741.85,529.59 747.17,530.27 752.50,530.95 757.83,531.62 763.15,532.29 768.48,532.95 773.81,533.61 779.14,534.26 784.46,534.91 789.79,535.56 795.12,536.20 800.44,536.83 805.77,537.46 811.10,538.09 816.42,538.71 821.75,539.33 827.08,539.94 832.41,540.55 837.73,541.15 843.06,541.75 848.39,542.35 853.71,542.94 859.04,543.53 864.37,544.11 869.69,544.70 875.02,545.27 880.35,545.85 885.68,546.42 891.00,546.98 896.33,547.54 901.66,548.10 906.98,548.66 912.31,549.21 913.91,549.38"/>
<polyline fill="none" stroke="rgba(70,35,10,0.75)" stroke-width="4" stroke-linejoin="round" points="54.66,73.00 56.00,91.50 57.33,106.61 58.66,119.39 59.99,130.46 61.32,140.23 62.65,148.96 63.99,156.86 65.32,164.07 66.65,170.71 67.98,176.85 69.31,182.57 70.64,187.92 71.98,192.95 73.31,197.69 74.64,202.17 75.97,206.42 77.30,210.47 78.63,214.32 79.97,218.01 81.30,221.54 82.63,224.92 83.96,228.17 85.29,231.30 86.63,234.32 87.96,237.23 89.29,240.04 90.62,242.75 91.95,245.39 93.28,247.94 94.62,250.41 95.95,252.81 97.28,255.15 98.61,257.42 99.94,259.63 101.27,261.79 102.61,263.88 103.94,265.93 105.27,267.93 106.60,269.88 107.93,271.79 109.27,273.65 110.60,275.47 111.93,277.25 113.26,279.00 118.59,285.63 123.91,291.78 129.24,297.50 134.57,302.85 139.90,307.87 145.22,312.61 150.55,317.09 155.88,321.35 161.20,325.39 166.53,329.25 171.86,332.93 177.18,336.46 182.51,339.84 187.84,343.10 193.17,346.22 198.49,349.24 203.82,352.15 209.15,354.96 214.47,357.68 219.80,360.31 225.13,362.86 230.45,365.34 235.78,367.74 241.11,370.07 246.44,372.35 251.76,374.56 257.09,376.71 262.42,378.81 267.74,380.86 273.07,382.85 278.40,384.80 283.72,386.71 289.05,388.57 294.38,390.39 299.71,392.18 305.03,393.92 310.36,395.63 315.69,397.31 321.01,398.95 326.34,400.56 331.67,402.14 336.99,403.69 342.32,405.21 347.65,406.70 352.98,408.17 358.30,409.61 363.63,411.03 368.96,412.42 374.28,413.79 379.61,415.14 384.94,416.47 390.26,417.77 395.59,419.06 400.92,420.32 406.25,421.57 411.57,422.80 416.90,424.01 422.23,425.20 427.55,426.38 432.88,427.54 438.21,428.68 443.53,429.81 448.86,430.92 454.19,432.02 459.52,433.10 464.84,434.17 470.17,435.23 475.50,436.27 480.82,437.30 486.15,438.32 491.48,439.32 496.80,440.31 502.13,441.30 507.46,442.27 512.79,443.22 518.11,444.17 523.44,445.11 528.77,446.03 534.09,446.95 539.42,447.86 544.75,448.75 550.07,449.64 555.40,450.52 560.73,451.38 566.06,452.24 571.38,453.09 576.71,453.94 582.04,454.77 587.36,455.59 592.69,456.41 598.02,457.22 603.34,458.02 608.67,458.81 614.00,459.60 619.33,460.38 624.65,461.15 629.98,461.91 635.31,462.67 640.63,463.42 645.96,464.16 651.29,464.90 656.61,465.63 661.94,466.35 667.27,467.07 672.60,467.78 677.92,468.49 683.25,469.19 688.58,469.88 693.90,470.57 699.23,471.25 704.56,471.93 709.88,472.60 715.21,473.27 720.54,473.93 725.87,474.58 731.19,475.23 736.52,475.88 741.85,476.52 747.17,477.15 752.50,477.78 757.83,478.41 763.15,479.03 768.48,479.65 773.81,480.26 779.14,480.87 784.46,481.47 789.79,482.07 795.12,482.66 800.44,483.25 805.77,483.84 811.10,484.42 816.42,485.00 821.75,485.57 827.08,486.14 832.41,486.71 837.73,487.27 843.06,487.83 848.39,488.38 853.71,488.93 859.04,489.48 864.37,490.02 869.69,490.56 875.02,491.10 880.35,491.63 885.68,492.16 891.00,492.69 896.33,493.21 901.66,493.73 906.98,494.25 912.31,494.76 913.91,494.92"/>
<polyline fill="none" stroke="#f9c9a2" stroke-width="2.1" stroke-linejoin="round" points="54.66,73.00 56.00,91.50 57.33,106.61 58.66,119.39 59.99,130.46 61.32,140.23 62.65,148.96 63.99,156.86 65.32,164.07 66.65,170.71 67.98,176.85 69.31,182.57 70.64,187.92 71.98,192.95 73.31,197.69 74.64,202.17 75.97,206.42 77.30,210.47 78.63,214.32 79.97,218.01 81.30,221.54 82.63,224.92 83.96,228.17 85.29,231.30 86.63,234.32 87.96,237.23 89.29,240.04 90.62,242.75 91.95,245.39 93.28,247.94 94.62,250.41 95.95,252.81 97.28,255.15 98.61,257.42 99.94,259.63 101.27,261.79 102.61,263.88 103.94,265.93 105.27,267.93 106.60,269.88 107.93,271.79 109.27,273.65 110.60,275.47 111.93,277.25 113.26,279.00 118.59,285.63 123.91,291.78 129.24,297.50 134.57,302.85 139.90,307.87 145.22,312.61 150.55,317.09 155.88,321.35 161.20,325.39 166.53,329.25 171.86,332.93 177.18,336.46 182.51,339.84 187.84,343.10 193.17,346.22 198.49,349.24 203.82,352.15 209.15,354.96 214.47,357.68 219.80,360.31 225.13,362.86 230.45,365.34 235.78,367.74 241.11,370.07 246.44,372.35 251.76,374.56 257.09,376.71 262.42,378.81 267.74,380.86 273.07,382.85 278.40,384.80 283.72,386.71 289.05,388.57 294.38,390.39 299.71,392.18 305.03,393.92 310.36,395.63 315.69,397.31 321.01,398.95 326.34,400.56 331.67,402.14 336.99,403.69 342.32,405.21 347.65,406.70 352.98,408.17 358.30,409.61 363.63,411.03 368.96,412.42 374.28,413.79 379.61,415.14 384.94,416.47 390.26,417.77 395.59,419.06 400.92,420.32 406.25,421.57 411.57,422.80 416.90,424.01 422.23,425.20 427.55,426.38 432.88,427.54 438.21,428.68 443.53,429.81 448.86,430.92 454.19,432.02 459.52,433.10 464.84,434.17 470.17,435.23 475.50,436.27 480.82,437.30 486.15,438.32 491.48,439.32 496.80,440.31 502.13,441.30 507.46,442.27 512.79,443.22 518.11,444.17 523.44,445.11 528.77,446.03 534.09,446.95 539.42,447.86 544.75,448.75 550.07,449.64 555.40,450.52 560.73,451.38 566.06,452.24 571.38,453.09 576.71,453.94 582.04,454.77 587.36,455.59 592.69,456.41 598.02,457.22 603.34,458.02 608.67,458.81 614.00,459.60 619.33,460.38 624.65,461.15 629.98,461.91 635.31,462.67 640.63,463.42 645.96,464.16 651.29,464.90 656.61,465.63 661.94,466.35 667.27,467.07 672.60,467.78 677.92,468.49 683.25,469.19 688.58,469.88 693.90,470.57 699.23,471.25 704.56,471.93 709.88,472.60 715.21,473.27 720.54,473.93 725.87,474.58 731.19,475.23 736.52,475.88 741.85,476.52 747.17,477.15 752.50,477.78 757.83,478.41 763.15,479.03 768.48,479.65 773.81,480.26 779.14,480.87 784.46,481.47 789.79,482.07 795.12,482.66 800.44,483.25 805.77,483.84 811.10,484.42 816.42,485.00 821.75,485.57 827.08,486.14 832.41,486.71 837.73,487.27 843.06,487.83 848.39,488.38 853.71,488.93 859.04,489.48 864.37,490.02 869.69,490.56 875.02,491.10 880.35,491.63 885.68,492.16 891.00,492.69 896.33,493.21 901.66,493.73 906.98,494.25 912.31,494.76 913.91,494.92"/>
<g font-size="11.3" fill="#e8e8e8" text-anchor="end" style="stroke:rgba(20,45,15,0.45)">
<text x="34" y="567.4">-</text>
<text x="39.6" y="499.6" textLength="27.2" lengthAdjust="spacingAndGlyphs">0.200</text>
<text x="39.6" y="430.9" textLength="27.2" lengthAdjust="spacingAndGlyphs">0.400</text>
<text x="39.6" y="362.1" textLength="27.2" lengthAdjust="spacingAndGlyphs">0.600</text>
<text x="39.6" y="293.3" textLength="27.2" lengthAdjust="spacingAndGlyphs">0.800</text>
<text x="39.6" y="224.5" textLength="27.2" lengthAdjust="spacingAndGlyphs">1.000</text>
<text x="39.6" y="155.8" textLength="27.2" lengthAdjust="spacingAndGlyphs">1.200</text>
<text x="39.6" y="87.0" textLength="27.2" lengthAdjust="spacingAndGlyphs">1.400</text>
<text x="39.6" y="18.2" textLength="27.2" lengthAdjust="spacingAndGlyphs">1.600</text>
</g>
<g font-size="11.3" fill="#ececec" text-anchor="start" style="stroke:rgba(80,40,10,0.5)">
<text x="930" y="567.4">-</text>
<text x="929.6" y="476.7" textLength="27.6" lengthAdjust="spacingAndGlyphs">1.000</text>
<text x="929.6" y="385.0" textLength="27.6" lengthAdjust="spacingAndGlyphs">2.000</text>
<text x="929.6" y="293.3" textLength="27.6" lengthAdjust="spacingAndGlyphs">3.000</text>
<text x="929.6" y="201.6" textLength="27.6" lengthAdjust="spacingAndGlyphs">4.000</text>
<text x="929.6" y="109.9" textLength="27.6" lengthAdjust="spacingAndGlyphs">5.000</text>
<text x="929.6" y="18.2" textLength="27.6" lengthAdjust="spacingAndGlyphs">6.000</text>
</g>
<g font-size="11" fill="#d9d9d9" text-anchor="end">
<text transform="translate(59.26,572.5) rotate(-90)">1</text>
<text transform="translate(75.25,572.5) rotate(-90)">4</text>
<text transform="translate(91.23,572.5) rotate(-90)">7</text>
<text transform="translate(107.21,572.5) rotate(-90)">10</text>
<text transform="translate(123.19,572.5) rotate(-90)">13</text>
<text transform="translate(139.17,572.5) rotate(-90)">16</text>
<text transform="translate(155.15,572.5) rotate(-90)">19</text>
<text transform="translate(171.13,572.5) rotate(-90)">22</text>
<text transform="translate(187.12,572.5) rotate(-90)">25</text>
<text transform="translate(203.10,572.5) rotate(-90)">28</text>
<text transform="translate(219.08,572.5) rotate(-90)">31</text>
<text transform="translate(235.06,572.5) rotate(-90)">34</text>
<text transform="translate(251.04,572.5) rotate(-90)">37</text>
<text transform="translate(267.02,572.5) rotate(-90)">40</text>
<text transform="translate(283.00,572.5) rotate(-90)">43</text>
<text transform="translate(298.99,572.5) rotate(-90)">46</text>
<text transform="translate(314.97,572.5) rotate(-90)">49</text>
<text transform="translate(330.95,572.5) rotate(-90)">52</text>
<text transform="translate(346.93,572.5) rotate(-90)">55</text>
<text transform="translate(362.91,572.5) rotate(-90)">58</text>
<text transform="translate(378.89,572.5) rotate(-90)">61</text>
<text transform="translate(394.87,572.5) rotate(-90)">64</text>
<text transform="translate(410.86,572.5) rotate(-90)">67</text>
<text transform="translate(426.84,572.5) rotate(-90)">70</text>
<text transform="translate(442.82,572.5) rotate(-90)">73</text>
<text transform="translate(458.80,572.5) rotate(-90)">76</text>
<text transform="translate(474.78,572.5) rotate(-90)">79</text>
<text transform="translate(490.76,572.5) rotate(-90)">82</text>
<text transform="translate(506.75,572.5) rotate(-90)">85</text>
<text transform="translate(522.73,572.5) rotate(-90)">88</text>
<text transform="translate(538.71,572.5) rotate(-90)">91</text>
<text transform="translate(554.69,572.5) rotate(-90)">94</text>
<text transform="translate(570.67,572.5) rotate(-90)">97</text>
<text transform="translate(586.65,572.5) rotate(-90)">100</text>
<text transform="translate(602.63,572.5) rotate(-90)">103</text>
<text transform="translate(618.62,572.5) rotate(-90)">106</text>
<text transform="translate(634.60,572.5) rotate(-90)">109</text>
<text transform="translate(650.58,572.5) rotate(-90)">112</text>
<text transform="translate(666.56,572.5) rotate(-90)">115</text>
<text transform="translate(682.54,572.5) rotate(-90)">118</text>
<text transform="translate(698.52,572.5) rotate(-90)">121</text>
<text transform="translate(714.50,572.5) rotate(-90)">124</text>
<text transform="translate(730.49,572.5) rotate(-90)">127</text>
<text transform="translate(746.47,572.5) rotate(-90)">130</text>
<text transform="translate(762.45,572.5) rotate(-90)">133</text>
<text transform="translate(778.43,572.5) rotate(-90)">136</text>
<text transform="translate(794.41,572.5) rotate(-90)">139</text>
<text transform="translate(810.39,572.5) rotate(-90)">142</text>
<text transform="translate(826.37,572.5) rotate(-90)">145</text>
<text transform="translate(842.36,572.5) rotate(-90)">148</text>
<text transform="translate(858.34,572.5) rotate(-90)">151</text>
<text transform="translate(874.32,572.5) rotate(-90)">154</text>
<text transform="translate(890.30,572.5) rotate(-90)">157</text>
<text transform="translate(906.28,572.5) rotate(-90)">160</text>
</g>
<text x="59.9" y="33.6" font-size="14.3" style="paint-order:normal;stroke:currentColor;stroke-width:0.35px" fill="#ffffff" color="#ffffff" textLength="242" lengthAdjust="spacingAndGlyphs">No Relationship Between 162-Marker</text>
<text x="308.8" y="33.6" font-size="14.3" style="paint-order:normal;stroke:currentColor;stroke-width:0.35px" fill="#c5dcb4" color="#c5dcb4" textLength="119" lengthAdjust="spacingAndGlyphs">Site Entropy Alpha</text>
<text x="431.6" y="33.6" font-size="14.3" style="paint-order:normal;stroke:currentColor;stroke-width:0.35px" fill="#ffffff" color="#ffffff" textLength="14" lengthAdjust="spacingAndGlyphs">to</text>
<text x="449.6" y="33.6" font-size="14.3" style="paint-order:normal;stroke:currentColor;stroke-width:0.35px" fill="#f4c3a4" color="#f4c3a4" textLength="34.5" lengthAdjust="spacingAndGlyphs">Delta</text>
<defs><linearGradient id="lg" x1="0" y1="0" x2="1" y2="0.6"><stop offset="0" stop-color="#f2a66e"/><stop offset="0.45" stop-color="#f7d6bc"/><stop offset="1" stop-color="#fbf1e6"/></linearGradient></defs>
<text x="813.4" y="42.8" style="font-family:Liberation Serif,serif;font-style:italic;stroke:url(#lg);stroke-width:0.35px;paint-order:normal;filter:drop-shadow(0 0 0.8px rgba(0,0,0,0.6))" font-size="17.5" fill="url(#lg)" textLength="104.7" lengthAdjust="spacingAndGlyphs">The Ethical Skeptic</text>
<text x="83.6" y="125.8" font-size="11.8" fill="#dfe6d2" textLength="74.6" lengthAdjust="spacingAndGlyphs">Site Entropy</text>
<text x="83.6" y="143.4" font-size="11.8" fill="#dfe6d2" textLength="35.4" lengthAdjust="spacingAndGlyphs">Taper</text>
<text x="668.0" y="429.9" font-size="12.2" fill="#eedccb" textLength="34.8" lengthAdjust="spacingAndGlyphs">Delta</text>
<text x="708.9" y="429.9" font-size="12.2" fill="#eedccb" textLength="63.6" lengthAdjust="spacingAndGlyphs">Mutations</text>
<text x="668.0" y="446.9" font-size="12.2" fill="#eedccb" textLength="35.6" lengthAdjust="spacingAndGlyphs">Taper</text>
<text x="878.2" y="533.6" font-size="12.4" font-style="italic" fill="#f0f0f0" textLength="77.5" lengthAdjust="spacingAndGlyphs">Slot Number</text>
</svg>
</div>
</body></html>
